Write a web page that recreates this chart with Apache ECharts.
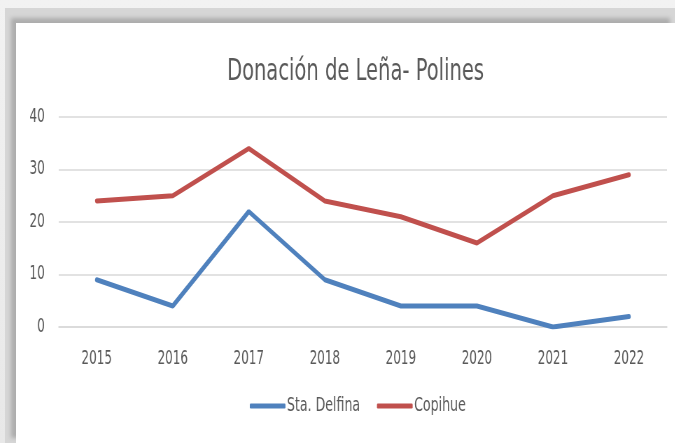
<!doctype html>
<html>
<head>
    <meta charset="utf-8">
    <title>Donación de Leña- Polines</title>
    <script src="https://cdn.jsdelivr.net/npm/echarts@6/dist/echarts.min.js"></script>
    <style>
        html, body { margin: 0; padding: 0; }
        body { width: 675px; height: 443px; overflow: hidden; position: relative;
               background: linear-gradient(#f2f2f2, #e8e8e8); }
        #frame { position: absolute; left: 5px; top: 8px; width: 670px; height: 435px;
                 background: #d6d6d6; }
        #paper { position: absolute; left: 16px; top: 23px; width: 659px; height: 420px;
                 background: #fff; box-shadow: -5px -5px 4px #adadad; overflow: hidden; }
        /* la imagen original está comprimida en horizontal */
        #container { position: absolute; left: 0; top: 0; width: 941px; height: 420px;
                     transform: scaleX(0.7); transform-origin: 0 0; }
    </style>
</head>
<body>
    <div id="frame"></div>
    <div id="paper"><div id="container"></div></div>
    <script type="text/javascript">
        // datos
        var years = ['2015', '2016', '2017', '2018', '2019', '2020', '2021', '2022'];
        var staDelfina = [9, 4, 22, 9, 4, 4, 0, 2];
        var copihue = [24, 25, 34, 24, 21, 16, 25, 29];

        var font = '"DejaVu Sans Condensed", "Open Sans", sans-serif';
        var gris = '#595959';

        var option = {
            animation: false,
            color: ['#4f81bd', '#c0504d'],
            title: {
                text: 'Donación de Leña- Polines',
                left: 480,
                textAlign: 'center',
                top: 28,
                textStyle: { fontFamily: font, fontSize: 31, fontWeight: 'normal', color: gris }
            },
            legend: {
                bottom: 22,
                left: 329,
                icon: 'roundRect',
                itemWidth: 51,
                itemHeight: 5,
                itemGap: 24,
                textStyle: { fontFamily: font, fontSize: 20, color: gris, padding: [0, 0, 0, -3] },
                data: ['Sta. Delfina', 'Copihue']
            },
            grid: { left: 61, right: 11, top: 94, bottom: 116 },
            xAxis: {
                type: 'category',
                data: years,
                boundaryGap: true,
                axisLine: { lineStyle: { color: '#d9d9d9', width: 1.5 } },
                axisTick: { show: false },
                axisLabel: { fontFamily: font, fontSize: 19, color: gris, margin: 23 }
            },
            yAxis: {
                type: 'value',
                min: 0,
                max: 40,
                interval: 10,
                axisLine: { show: false },
                axisTick: { show: false },
                axisLabel: { fontFamily: font, fontSize: 19, color: gris, margin: 20 },
                splitLine: { lineStyle: { color: '#d9d9d9', width: 1.5 } }
            },
            series: [{
                name: 'Sta. Delfina',
                type: 'line',
                data: staDelfina,
                symbol: 'none',
                lineStyle: { width: 5, cap: 'round' }
            }, {
                name: 'Copihue',
                type: 'line',
                data: copihue,
                symbol: 'none',
                lineStyle: { width: 5, cap: 'round' }
            }]
        };
        var myChart = echarts.init(document.getElementById('container'));
        myChart.setOption(option);
    </script>
</body>
</html>
